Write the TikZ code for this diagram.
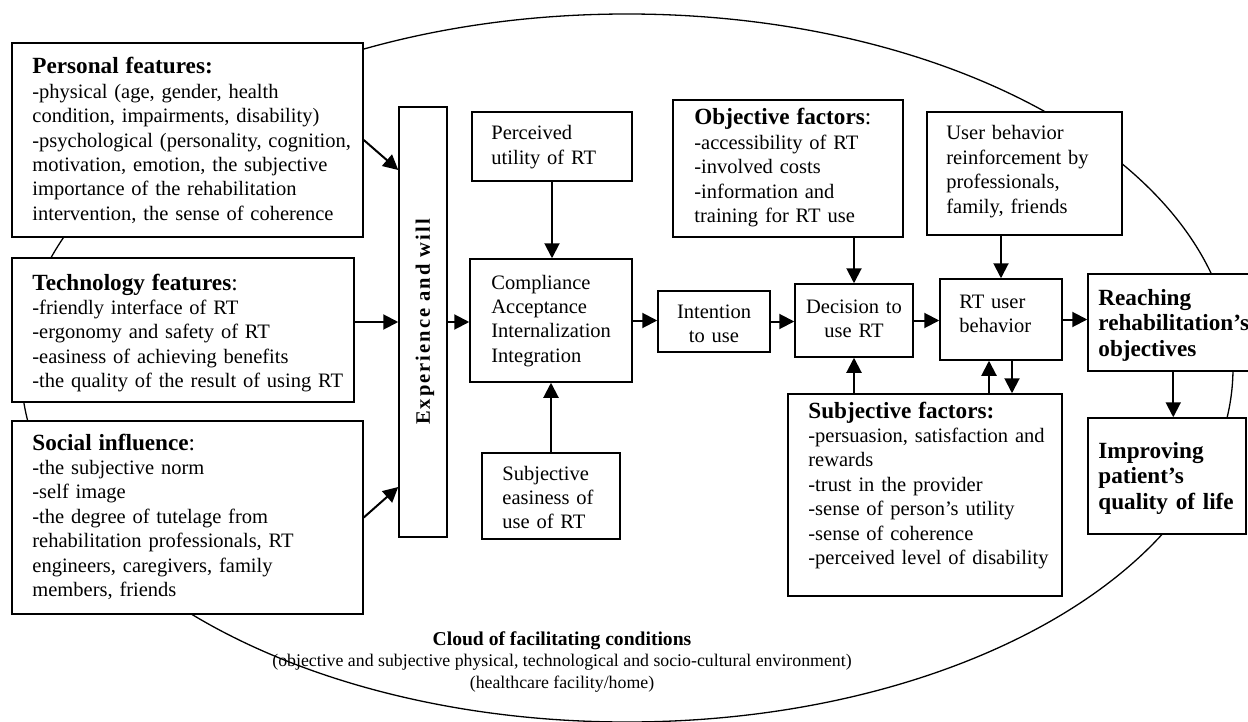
\documentclass[tikz,border=0pt]{standalone}
\usepackage{fontspec}
\setmainfont{Liberation Serif}
\usetikzlibrary{fit,calc,arrows.meta}
\newcommand\bodyf{\fontsize{10.25}{12.2}\selectfont}
\newcommand\headf{\fontsize{11.6}{12.2}\selectfont\bfseries}
\newcommand\bigbf{\fontsize{11.6}{12.8}\selectfont\bfseries}
\newfontfamily\spacedbf[LetterSpace=10]{Liberation Serif}
\begin{document}
\begin{tikzpicture}[x=0.5pt,y=-0.5pt,
  box/.style={draw, line width=0.75pt, fill=white, inner sep=0pt},
  txt/.style={anchor=base west, inner sep=0pt, text width=200pt, align=left, font=\bodyf},
  ctxt/.style={anchor=base, inner sep=0pt, text width=80pt, align=center, font=\bodyf},
  arr/.style={line width=1pt, -{Triangle[length=7.5pt,width=7.5pt]}},
  cloudline/.style={line width=0.65pt}
]
\useasboundingbox (0,0) rectangle (1248,722);
\clip (0,0) rectangle (1248,722);

% cloud ellipse
\draw[cloudline] (627,368) ellipse [x radius=303pt, y radius=177pt];

% boxes
\node[box, fit={(12,43) (363,237)}] (pf) {};
\node[box, fit={(12,258) (354,402)}] (tf) {};
\node[box, fit={(12,421) (363,614)}] (sf) {};
\node[box, fit={(399,107) (447,537)}] (exp) {};
\node[box, fit={(472,112) (632,181)}] (pu) {};
\node[box, fit={(470,259) (632,382)}] (comp) {};
\node[box, fit={(482,453) (620,539)}] (se) {};
\node[box, fit={(658,291) (770,352)}] (int) {};
\node[box, fit={(673,100) (903,237)}] (obj) {};
\node[box, fit={(795,284) (913,357)}] (dec) {};
\node[box, fit={(927,112) (1122,235)}] (ur) {};
\node[box, fit={(940,279) (1062,360)}] (rtu) {};
\node[box, fit={(1088,274) (1258,371)}] (reach) {};
\node[box, fit={(1088,418) (1246,534)}] (imp) {};
\node[box, fit={(788,394) (1062,596)}] (sfac) {};

% texts
\node[txt] (pft) at (32,74) {{\headf Personal features:}\\
-physical (age, gender, health\\
condition, impairments, disability)\\
-psychological (personality, cognition,\\
motivation, emotion, the subjective\\
importance of the rehabilitation\\
intervention, the sense of coherence};

\node[txt] (tft) at (32,290) {{\headf Technology features}{\fontsize{11.6}{12.2}\selectfont:}\\
-friendly interface of RT\\
-ergonomy and safety of RT\\
-easiness of achieving benefits\\
-the quality of the result of using RT};

\node[txt] (sft) at (32,450) {{\headf Social influence}{\fontsize{11.6}{12.2}\selectfont:}\\
-the subjective norm\\
-self image\\
-the degree of tutelage from\\
rehabilitation professionals, RT\\
engineers, caregivers, family\\
members, friends};

\node[rotate=90, inner sep=0pt, font=\spacedbf\bodyf\bfseries] (expt) at (425,322) {Experience and will};

\node[txt] (put) at (491,140) {Perceived\\utility of RT};
\node[txt] (compt) at (491,289) {Compliance\\Acceptance\\Internalization\\Integration};
\node[txt] (set) at (502,480) {Subjective\\easiness of\\use of RT};
\node[ctxt] (intt) at (714,318) {Intention\\to use};
\node[txt] (objt) at (694,125) {{\headf Objective factors}{\fontsize{11.6}{12.2}\selectfont:}\\
-accessibility of RT\\
-involved costs\\
-information and\\
training for RT use};
\node[ctxt] (dect) at (854,313) {Decision to\\use RT};
\node[txt] (urt) at (946,140) {User behavior\\reinforcement by\\professionals,\\family, friends};
\node[txt] (rtut) at (959,308) {RT user\\behavior};
\node[txt, font=\bigbf] (reacht) at (1098,305) {Reaching\\rehabilitation’s\\objectives};
\node[txt, font=\bigbf] (impt) at (1098,458) {Improving\\patient’s\\quality of life};
\node[txt] (sfact) at (808,418) {{\headf Subjective factors:}\\
-persuasion, satisfaction and\\
rewards\\
-trust in the provider\\
-sense of person’s utility\\
-sense of coherence\\
-perceived level of disability};

\node[align=center, inner sep=0pt, font=\fontsize{8.9}{10.6}\selectfont] (cond) at (562,662)
  {{\fontsize{9.8}{10.6}\selectfont\bfseries Cloud of facilitating conditions}\\
   (objective and subjective physical, technological and socio-cultural environment)\\
   (healthcare facility/home)};

% helper points
\coordinate (rtuL) at ($(rtu.south)+(-12,0)$);
\coordinate (rtuR) at ($(rtu.south)+(11,0)$);
\coordinate (reachB) at ($(reach.south west)+(86,0)$);

% connectors
\draw[arr] (pf.east) -- ($(exp.west)+(0,-152)$);
\draw[arr] (tf.east |- exp.west) -- (exp.west);
\draw[arr] (sf.east) -- ($(exp.west)+(0,165)$);
\draw[arr] (exp.east) -- (exp.east -| comp.west);
\draw[arr] (pu.south) -- (pu.south |- comp.north);
\draw[arr] (se.north) -- (se.north |- comp.south);
\draw[arr] (comp.east) -- (comp.east -| int.west);
\draw[arr] (int.east) -- (int.east -| dec.west);
\draw[arr] (dec.north |- obj.south) -- (dec.north);
\draw[arr] (dec.east) -- (dec.east -| rtu.west);
\draw[arr] (rtu.north |- ur.south) -- (rtu.north);
\draw[arr] (rtu.east) -- (rtu.east -| reach.west);
\draw[arr] (dec.south |- sfac.north) -- (dec.south);
\draw[arr] (rtuL |- sfac.north) -- (rtuL);
\draw[arr] (rtuR) -- (rtuR |- sfac.north);
\draw[arr] (reachB) -- (reachB |- imp.north);
\end{tikzpicture}
\end{document}
